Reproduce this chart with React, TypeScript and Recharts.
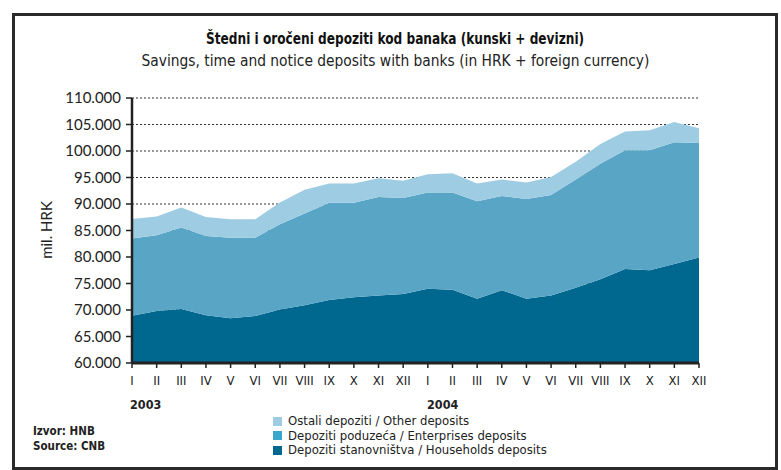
import { Area, AreaChart, CartesianGrid, XAxis, YAxis } from "recharts";

const MONTHS = [
  "I", "II", "III", "IV", "V", "VI", "VII", "VIII", "IX", "X", "XI", "XII",
  "I", "II", "III", "IV", "V", "VI", "VII", "VIII", "IX", "X", "XI", "XII",
];

// mil. HRK
const HOUSEHOLDS = [
  68900, 69800, 70200, 69000, 68450, 68850, 70100, 70900, 71900, 72400, 72750, 73000,
  74000, 73800, 72100, 73750, 72100, 72750, 74200, 75800, 77750, 77500, 78700, 79900,
];
const ENTERPRISES = [
  14600, 14300, 15350, 14950, 15200, 14800, 16100, 17300, 18350, 17850, 18550, 18150,
  18150, 18350, 18400, 17750, 18850, 18950, 20400, 21800, 22400, 22650, 22950, 21600,
];
const OTHER = [
  3650, 3550, 3800, 3600, 3450, 3450, 4100, 4500, 3600, 3600, 3550, 3250,
  3450, 3650, 3350, 3100, 3100, 3400, 3350, 3700, 3550, 3750, 3800, 2800,
];

const Y_TICKS = [60000, 65000, 70000, 75000, 80000, 85000, 90000, 95000, 100000, 105000, 110000];

const COLORS = { households: "#00678f", enterprises: "#58a5c6", other: "#9ecce3" };
const LEGEND_COLORS = { households: "#00678f", enterprises: "#39a6ce", other: "#9ecce3" };

const data = MONTHS.map((m, i) => ({
  m,
  households: HOUSEHOLDS[i],
  enterprises: ENTERPRISES[i],
  other: OTHER[i],
}));

const NARROW = "'DejaVu Sans Condensed', 'Liberation Sans Narrow', sans-serif";
const BODY = "Lato, 'Open Sans', sans-serif";

const fmt = (v: number) => String(v).replace(/\B(?=(\d{3})+(?!\d))/g, ".");

const legendRows = [
  { key: "other", label: "Ostali depoziti / Other deposits" },
  { key: "enterprises", label: "Depoziti poduzeća / Enterprises deposits" },
  { key: "households", label: "Depoziti stanovništva / Households deposits" },
] as const;

function LegendBox() {
  return (
    <div style={{ fontFamily: NARROW, fontSize: 13, color: "#222", lineHeight: "14.5px" }}>
      {legendRows.map((r) => (
        <div key={r.key} style={{ display: "flex", alignItems: "center", whiteSpace: "nowrap" }}>
          <span
            style={{
              display: "inline-block",
              width: 9,
              height: 9,
              marginRight: 6,
              background: LEGEND_COLORS[r.key],
            }}
          />
          {r.label}
        </div>
      ))}
    </div>
  );
}

const abs = (left: number, top: number): React.CSSProperties => ({ position: "absolute", left, top });

export default function App() {
  return (
    <div
      style={{
        position: "absolute",
        left: 0,
        top: 0,
        width: 781,
        height: 470,
        background: "#fff",
        overflow: "hidden",
      }}
    >
      <div
        style={{
          position: "absolute",
          left: 12,
          top: 13,
          width: 766,
          height: 457,
          border: "3px solid #2a2a2a",
          boxSizing: "border-box",
        }}
      />
      <div style={{ position: "absolute", left: 12, width: 766, top: 30, textAlign: "center" }}>
        <span
          style={{
            display: "inline-block",
            transform: "scaleX(0.9)",
            fontFamily: NARROW,
            fontWeight: "bold",
            fontSize: 15,
            color: "#111",
            whiteSpace: "nowrap",
          }}
        >
          Štedni i oročeni depoziti kod banaka (kunski + devizni)
        </span>
      </div>
      <div style={{ position: "absolute", left: 12, width: 766, top: 51, textAlign: "center" }}>
        <span
          style={{
            display: "inline-block",
            transform: "scaleX(0.96)",
            fontFamily: NARROW,
            fontSize: 16,
            color: "#222",
            whiteSpace: "nowrap",
          }}
        >
          Savings, time and notice deposits with banks (in HRK + foreign currency)
        </span>
      </div>
      <div
        style={{
          position: "absolute",
          left: 46,
          top: 230,
          transform: "translate(-50%, -50%) rotate(-90deg)",
          fontFamily: BODY,
          fontSize: 15,
          color: "#222",
          whiteSpace: "nowrap",
        }}
      >
        mil. HRK
      </div>
      <div style={{ ...abs(130, 397), fontFamily: NARROW, fontWeight: "bold", fontSize: 12.5, color: "#222" }}>
        2003
      </div>
      <div style={{ ...abs(427, 397), fontFamily: NARROW, fontWeight: "bold", fontSize: 12.5, color: "#222" }}>
        2004
      </div>
      <div
        style={{
          ...abs(33, 424),
          fontFamily: NARROW,
          fontWeight: "bold",
          fontSize: 11.5,
          lineHeight: "15px",
          color: "#222",
        }}
      >
        <div>Izvor: HNB</div>
        <div>Source: CNB</div>
      </div>
      <div style={abs(273, 414)}>
        <LegendBox />
      </div>
      <div style={abs(0, 0)}>
        <AreaChart
          width={781}
          height={470}
          data={data}
          margin={{ top: 98, right: 82, bottom: 77, left: 52 }}
        >
          <CartesianGrid
            horizontal
            vertical={false}
            stroke="#333"
            strokeDasharray="2 2"
            strokeWidth={1}
          />
          <XAxis
            dataKey="m"
            interval={0}
            height={30}
            axisLine={{ stroke: "#222", strokeWidth: 3 }}
            tickLine={{ stroke: "#222", strokeWidth: 1.5 }}
            tickSize={5}
            tickMargin={8}
            tick={{ fill: "#222", fontFamily: NARROW, fontSize: 13 }}
          />
          <YAxis
            type="number"
            domain={[60000, 110000]}
            ticks={Y_TICKS}
            allowDataOverflow
            width={80}
            axisLine={{ stroke: "#222", strokeWidth: 2.5 }}
            tickLine={{ stroke: "#222", strokeWidth: 1.5 }}
            tickSize={6}
            tickMargin={5}
            tickFormatter={fmt}
            tick={{ fill: "#222", fontFamily: BODY, fontSize: 15 }}
          />
          <Area
            type="linear"
            dataKey="households"
            stackId="a"
            stroke="none"
            fill={COLORS.households}
            fillOpacity={1}
            isAnimationActive={false}
          />
          <Area
            type="linear"
            dataKey="enterprises"
            stackId="a"
            stroke="none"
            fill={COLORS.enterprises}
            fillOpacity={1}
            isAnimationActive={false}
          />
          <Area
            type="linear"
            dataKey="other"
            stackId="a"
            stroke="none"
            fill={COLORS.other}
            fillOpacity={1}
            isAnimationActive={false}
          />
        </AreaChart>
      </div>
    </div>
  );
}
